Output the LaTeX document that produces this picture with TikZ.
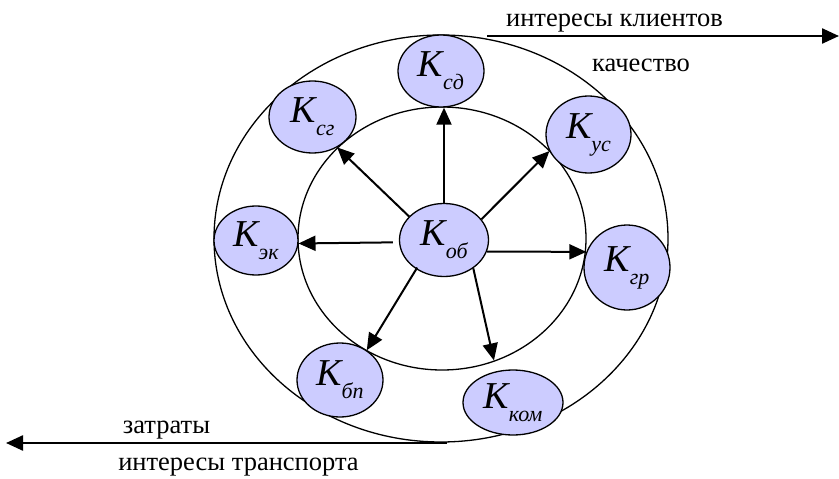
\documentclass[tikz,border=0pt]{standalone}
\usepackage{fontspec}
\setmainfont{Liberation Serif}
\usetikzlibrary{shapes.geometric,arrows.meta}
\definecolor{kfill}{RGB}{204,204,255}
\tikzset{
  knode/.style={ellipse,draw=black,line width=1.3pt,fill=kfill,inner sep=0pt},
  ring/.style={draw=black,line width=1.3pt},
  arr/.style={draw=black,line width=2pt,-{Triangle[length=17pt,width=15pt]}},
  bigarr/.style={draw=black,line width=2.4pt,-{Triangle[length=17pt,width=15pt]}},
  lbl/.style={inner sep=0pt,anchor=base,font=\fontsize{26.5}{26.5}\selectfont}
}
\newcommand{\kk}[1]{{\fontsize{38}{38}\selectfont\itshape K}\raisebox{-13pt}{\fontsize{22}{22}\selectfont\itshape #1}}
\begin{document}
\begin{tikzpicture}[x=1pt,y=-1pt]
\useasboundingbox (0,0) rectangle (839,479);
% rings
\draw[ring] (441,238.5) ellipse [x radius=227, y radius=203.5];
\draw[ring] (442,238.5) ellipse [x radius=144, y radius=131.5];
% nodes
\node[knode,minimum width=89pt,minimum height=73pt] (ob) at (444,240) {\kk{об}};
\node[knode,minimum width=86pt,minimum height=72pt] (sd) at (441,71) {\kk{сд}};
\node[knode,minimum width=87pt,minimum height=72pt] (sg) at (312.5,117) {\kk{сг}};
\node[knode,minimum width=85pt,minimum height=77pt] (us) at (588.5,134.5) {\kk{ус}};
\node[knode,minimum width=84pt,minimum height=69pt] (ek) at (256,240.5) {\kk{эк}};
\node[knode,minimum width=86pt,minimum height=85pt] (gr) at (627,267.5) {\kk{гр}};
\node[knode,minimum width=86pt,minimum height=74pt] (bp) at (340,380) {\kk{бп}};
\node[knode,minimum width=100pt,minimum height=65pt] (kom) at (513,402.5) {\kk{ком}};
% arrows
\draw[arr] (ob.north) -- (ob.north |- sd.south);
\draw[arr] (ob.146.7) -- (sg.-51);
\draw[arr] (ob.29) -- (us.203);
\draw[arr] ([xshift=-6pt]ob.183) -- (ek.-4);
\draw[arr] (ob.-15) -- (gr.159);
\draw[arr] ([shift={(-3pt,4pt)}]ob.233) -- (bp.48);
\draw[arr,shorten >=11pt] (ob.-44) -- (kom.118);
% direction arrows
\coordinate (t1) at (487,36);
\coordinate (t2) at (839,36);
\coordinate (b1) at (447,443);
\coordinate (b2) at (6,443);
\draw[bigarr] (t1) -- (t2);
\draw[bigarr] (b1) -- (b2);
\node[lbl] (lk) at (614.5,27) {интересы клиентов};
\node[lbl] (lq) at (641,71) {качество};
\node[lbl] (lz) at (166.5,433) {затраты};
\node[lbl] (lt) at (238.5,470) {интересы транспорта};
\end{tikzpicture}
\end{document}
